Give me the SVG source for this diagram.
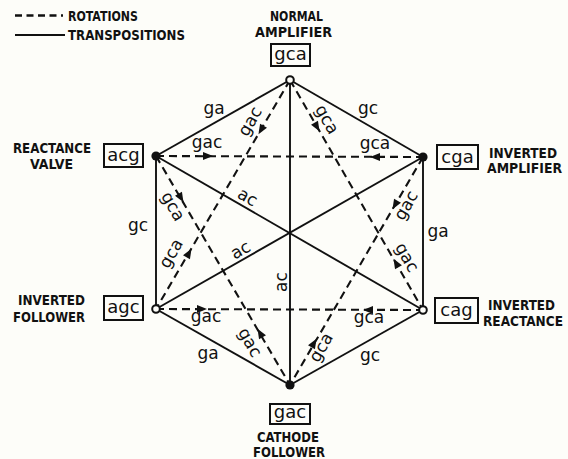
<svg xmlns="http://www.w3.org/2000/svg" width="568" height="459" viewBox="0 0 568 459">
  <style>
    .solid { stroke: #111; stroke-width: 1.9; fill: none; }
    .dash { stroke: #111; stroke-width: 2.1; fill: none; stroke-dasharray: 8 5; }
    .cap { font-family: "DejaVu Sans Condensed", "DejaVu Sans", sans-serif; font-weight: bold; font-size: 13.5px; fill: #111; }
    .lbl { font-family: "DejaVu Sans", sans-serif; font-size: 17px; fill: #111; text-anchor: middle; }
    .box { fill: none; stroke: #111; stroke-width: 2; }
    .boxt { font-family: "DejaVu Sans", sans-serif; font-size: 18px; fill: #111; text-anchor: middle; }
    .dot { fill: #111; }
    .ring { fill: #fdfdf9; stroke: #111; stroke-width: 2; }
  </style>
  <defs>
    <path id="arr" d="M5,0 L-5,-4 L-5,4 Z" fill="#111"/>
  </defs>
  <rect width="568" height="459" fill="#fdfdf9"/>

  <!-- legend -->
  <g id="legend">
    <line x1="15" y1="15.5" x2="63" y2="15.5" stroke="#111" stroke-width="2.5" stroke-dasharray="7 4.5"/>
    <text class="cap" x="68" y="20.5" textLength="70" lengthAdjust="spacingAndGlyphs">ROTATIONS</text>
    <line x1="15" y1="35" x2="65" y2="35" stroke="#111" stroke-width="2.2"/>
    <text class="cap" x="68" y="40" textLength="117" lengthAdjust="spacingAndGlyphs">TRANSPOSITIONS</text>
  </g>

  <!-- connectors -->
  <g id="connectors">
    <!-- transpositions: hexagon edges -->
    <line class="solid" x1="290" y1="80" x2="156" y2="156"/>
    <line class="solid" x1="290" y1="80" x2="423" y2="157"/>
    <line class="solid" x1="156" y1="156" x2="156" y2="309"/>
    <line class="solid" x1="423" y1="157" x2="423" y2="310"/>
    <line class="solid" x1="156" y1="309" x2="290" y2="385"/>
    <line class="solid" x1="423" y1="310" x2="290" y2="385"/>
    <!-- transpositions: diagonals -->
    <line class="solid" x1="290" y1="80" x2="290" y2="385"/>
    <line class="solid" x1="156" y1="156" x2="423" y2="310"/>
    <line class="solid" x1="156" y1="309" x2="423" y2="157"/>

    <!-- rotations -->
    <line class="dash" x1="156" y1="156" x2="423" y2="157"/>
    <line class="dash" x1="156" y1="309" x2="423" y2="310"/>
    <line class="dash" x1="290" y1="80" x2="156" y2="309"/>
    <line class="dash" x1="156" y1="156" x2="290" y2="385"/>
    <line class="dash" x1="290" y1="80" x2="423" y2="310"/>
    <line class="dash" x1="423" y1="157" x2="290" y2="385"/>

    <!-- arrowheads -->
    <use href="#arr" transform="translate(208,156)"/>
    <use href="#arr" transform="translate(375,157) rotate(180)"/>
    <use href="#arr" transform="translate(202,309)"/>
    <use href="#arr" transform="translate(368,310) rotate(180)"/>
    <use href="#arr" transform="translate(261,130) rotate(120.3)"/>
    <use href="#arr" transform="translate(189,253) rotate(-59.7)"/>
    <use href="#arr" transform="translate(181,198) rotate(59.7)"/>
    <use href="#arr" transform="translate(260,333) rotate(-120.3)"/>
    <use href="#arr" transform="translate(317,127) rotate(60)"/>
    <use href="#arr" transform="translate(396,263) rotate(-120)"/>
    <use href="#arr" transform="translate(395,205) rotate(120.3)"/>
    <use href="#arr" transform="translate(314,343) rotate(-59.7)"/>

    <!-- transposition labels -->
    <text class="lbl" x="214" y="114">ga</text>
    <text class="lbl" x="368" y="114">gc</text>
    <text class="lbl" x="138" y="231">gc</text>
    <text class="lbl" x="438" y="237">ga</text>
    <text class="lbl" x="208" y="359">ga</text>
    <text class="lbl" x="370" y="361">gc</text>
    <text class="lbl" transform="translate(247,198) rotate(30)" y="4.5">ac</text>
    <text class="lbl" transform="translate(241,251) rotate(-30)" y="4.5">ac</text>
    <text class="lbl" transform="translate(282,282) rotate(-90)" y="4.5">ac</text>

    <!-- rotation labels -->
    <text class="lbl" x="207" y="148">gac</text>
    <text class="lbl" x="375" y="149">gca</text>
    <text class="lbl" x="206" y="322">gac</text>
    <text class="lbl" x="369" y="323">gca</text>
    <text class="lbl" transform="translate(251,122) rotate(-60)" y="4.5">gac</text>
    <text class="lbl" transform="translate(172,254) rotate(-60)" y="4.5">gca</text>
    <text class="lbl" transform="translate(172,207) rotate(60)" y="4.5">gca</text>
    <text class="lbl" transform="translate(249,343) rotate(60)" y="4.5">gac</text>
    <text class="lbl" transform="translate(326,120) rotate(60)" y="4.5">gca</text>
    <text class="lbl" transform="translate(406,258) rotate(60)" y="4.5">gac</text>
    <text class="lbl" transform="translate(407,206) rotate(-60)" y="4.5">gac</text>
    <text class="lbl" transform="translate(322,348) rotate(-60)" y="4.5">gca</text>
  </g>

  <!-- nodes -->
  <g id="node-gca">
    <circle class="ring" cx="290" cy="80" r="3.8"/>
    <rect class="box" x="271" y="44" width="39" height="22"/>
    <text class="boxt" x="290.5" y="60">gca</text>
    <text class="cap" x="270" y="21" textLength="53" lengthAdjust="spacingAndGlyphs">NORMAL</text>
    <text class="cap" x="255" y="37" textLength="77" lengthAdjust="spacingAndGlyphs">AMPLIFIER</text>
  </g>
  <g id="node-acg">
    <circle class="dot" cx="156" cy="156" r="4.6"/>
    <rect class="box" x="104" y="144" width="39" height="23"/>
    <text class="boxt" x="123.5" y="161">acg</text>
    <text class="cap" x="13" y="153" textLength="78" lengthAdjust="spacingAndGlyphs">REACTANCE</text>
    <text class="cap" x="30" y="169" textLength="43" lengthAdjust="spacingAndGlyphs">VALVE</text>
  </g>
  <g id="node-cga">
    <circle class="dot" cx="423" cy="157" r="4.6"/>
    <rect class="box" x="437" y="145" width="41" height="24"/>
    <text class="boxt" x="457.5" y="163">cga</text>
    <text class="cap" x="489" y="158" textLength="68" lengthAdjust="spacingAndGlyphs">INVERTED</text>
    <text class="cap" x="487" y="173" textLength="75" lengthAdjust="spacingAndGlyphs">AMPLIFIER</text>
  </g>
  <g id="node-agc">
    <circle class="ring" cx="156" cy="309" r="3.8"/>
    <rect class="box" x="104" y="296" width="39" height="24"/>
    <text class="boxt" x="123.5" y="313">agc</text>
    <text class="cap" x="18" y="305" textLength="67" lengthAdjust="spacingAndGlyphs">INVERTED</text>
    <text class="cap" x="13" y="322" textLength="72" lengthAdjust="spacingAndGlyphs">FOLLOWER</text>
  </g>
  <g id="node-cag">
    <circle class="ring" cx="423" cy="310" r="3.8"/>
    <rect class="box" x="435" y="298" width="43" height="25"/>
    <text class="boxt" x="456.5" y="316">cag</text>
    <text class="cap" x="488" y="310" textLength="67" lengthAdjust="spacingAndGlyphs">INVERTED</text>
    <text class="cap" x="483" y="326" textLength="80" lengthAdjust="spacingAndGlyphs">REACTANCE</text>
  </g>
  <g id="node-gac">
    <circle class="dot" cx="290" cy="385" r="4.6"/>
    <rect class="box" x="270" y="404" width="40" height="20"/>
    <text class="boxt" x="290" y="418">gac</text>
    <text class="cap" x="257" y="442" textLength="62" lengthAdjust="spacingAndGlyphs">CATHODE</text>
    <text class="cap" x="253" y="457" textLength="72" lengthAdjust="spacingAndGlyphs">FOLLOWER</text>
  </g>
</svg>
